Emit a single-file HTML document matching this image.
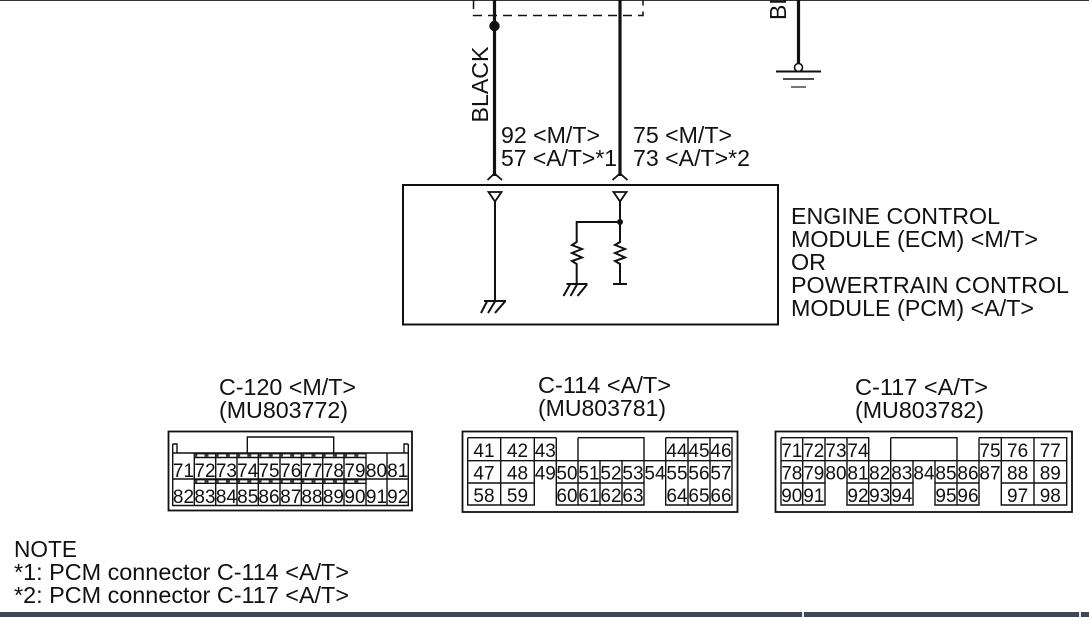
<!DOCTYPE html>
<html><head><meta charset="utf-8"><style>
html,body{margin:0;padding:0;background:#fff}
svg{display:block}
text{font-family:"Liberation Sans",sans-serif;fill:#111}
.l{font-size:23px}
.d text{font-size:19px;text-anchor:middle}
</style></head><body>
<svg width="1089" height="617" viewBox="0 0 1089 617" xmlns="http://www.w3.org/2000/svg">
<rect width="1089" height="617" fill="#fff"/>
<rect x="0" y="0" width="1089" height="1" fill="#333"/>
<!-- wires -->
<g fill="none" stroke="#111">
<path d="M473.5 0V15.5H643V0" stroke-width="1.5" stroke-dasharray="9 6"/>
<path d="M494.5 0V176M620 0V176M798.5 0V64" stroke-width="3.2"/>
<path d="M487.5 180L494.5 173.5L502 180M612.5 180L620 173.5L627.5 180" stroke-width="1.8"/>
<circle cx="798.5" cy="67.5" r="4" fill="#fff" stroke-width="1.6"/>
<path d="M776 71.5H821" stroke-width="2"/>
<path d="M783 79H814" stroke-width="1.4"/>
<path d="M791 87H806" stroke-width="1.6" stroke="#555"/>
<!-- module -->
<rect x="403" y="185" width="375" height="139.5" stroke-width="2"/>
<path d="M488.5 192H501.5L495 201.5ZM613.5 192H626.5L620 201.5Z" stroke-width="1.8"/>
<path d="M495 201V301M620 201V242L615 245L625 249L615 253L625 257.5L615 261L620 264V284M620 222H576.7V242L572 245L582 249L572 253L582 257.5L572 261L576.7 264V284" stroke-width="2"/>
<path d="M484 301H506M487 301.5L481 313M495 301.5L488 313M505 301.5L495 313M566.5 284H587.5M570 284.5L563.5 296M577 284.5L570.5 296M587 284.5L577.5 296M613 284H627" stroke-width="2"/>
<!-- C-120 -->
<rect x="168.5" y="431.5" width="243.5" height="79" stroke-width="1.8"/>
<path d="M172.7 444V505.5H408.3V444M172.7 453H408.3M172.7 479H408.3M177 453V444H172.7M404 453V444H408.3M247.3 453V437H333.7V453" stroke-width="1.4"/>
<path d="M194.3 453V505.5M215.7 453V505.5M237 453V505.5M258.3 453V505.5M280 453V505.5M301.3 453V505.5M322.7 453V505.5M344 453V505.5M366 453V505.5M387 453V505.5" stroke-width="1.4"/>
<path d="M194.3 453.7H366M194.3 457.5H366M194.3 479.7H366M194.3 483.3H366" stroke-width="1.4"/>
<path d="M194.3 455.6H366M194.3 481.5H366" stroke-width="2.4" stroke="#333" stroke-dasharray="3 7.2 4 7.2"/>
<!-- C-114 -->
<rect x="462.5" y="431.5" width="275" height="80.5" stroke-width="1.8"/>
<path d="M467.7 437.7H556.3M578 437.7H644V460.7M578 437.7V460.7M665.7 437.7H732V505H665.7V437.7M467.7 437.7V505H534.3V437.7M500.7 437.7V505M556.3 437.7V460.7M467.7 460.7H732M467.7 483H534.3M556.3 483H644M556.3 460.7V505H644V483M578 460.7V505M600 460.7V505M622 460.7V505M644 460.7V483M688 437.7V505M710 437.7V505" stroke-width="1.4"/>
<!-- C-117 -->
<rect x="775.5" y="431.5" width="296.5" height="80.5" stroke-width="1.8"/>
<path d="M781 437.7H868.7V460.7M781 437.7V505H825V460.7M802.7 437.7V505M825 437.7V460.7M847 437.7V505H913V460.7M890.7 437.7H957V460.7M890.7 437.7V505M868.7 460.7V505M781 460.7H1066.7M781 483H825M847 483H913M935 483H979M1001.3 483H1066.7M935 460.7V505H979V460.7M957 460.7V505M979 437.7H1066.7V505H1001.3V437.7M979 437.7V460.7M1034 437.7V505" stroke-width="1.4"/>
</g>
<circle cx="494.5" cy="26" r="5.2" fill="#111"/>
<circle cx="620" cy="222" r="3" fill="#111"/>
<!-- labels -->
<text class="l" transform="translate(488 122.5) rotate(-90)" textLength="76" lengthAdjust="spacingAndGlyphs">BLACK</text>
<text class="l" transform="translate(786 20) rotate(-90)">BL</text>
<g class="l" transform="translate(0 0.8)">
<text class="l" x="501" y="142" textLength="99" lengthAdjust="spacingAndGlyphs">92 &lt;M/T&gt;</text>
<text class="l" x="501" y="165" textLength="116" lengthAdjust="spacingAndGlyphs">57 &lt;A/T&gt;*1</text>
<text class="l" x="633" y="142" textLength="99" lengthAdjust="spacingAndGlyphs">75 &lt;M/T&gt;</text>
<text class="l" x="633" y="165" textLength="117" lengthAdjust="spacingAndGlyphs">73 &lt;A/T&gt;*2</text>
<text class="l" x="791" y="223" textLength="209" lengthAdjust="spacingAndGlyphs">ENGINE CONTROL</text>
<text class="l" x="791" y="246" textLength="247" lengthAdjust="spacingAndGlyphs">MODULE (ECM) &lt;M/T&gt;</text>
<text class="l" x="791" y="269" textLength="35" lengthAdjust="spacingAndGlyphs">OR</text>
<text class="l" x="791" y="292" textLength="278" lengthAdjust="spacingAndGlyphs">POWERTRAIN CONTROL</text>
<text class="l" x="791" y="315" textLength="243" lengthAdjust="spacingAndGlyphs">MODULE (PCM) &lt;A/T&gt;</text>
<text class="l" x="219" y="394" textLength="137" lengthAdjust="spacingAndGlyphs">C-120 &lt;M/T&gt;</text>
<text class="l" x="219" y="417" textLength="129" lengthAdjust="spacingAndGlyphs">(MU803772)</text>
<text class="l" x="538" y="392" textLength="133" lengthAdjust="spacingAndGlyphs">C-114 &lt;A/T&gt;</text>
<text class="l" x="538" y="415" textLength="128" lengthAdjust="spacingAndGlyphs">(MU803781)</text>
<text class="l" x="855" y="394" textLength="133" lengthAdjust="spacingAndGlyphs">C-117 &lt;A/T&gt;</text>
<text class="l" x="855" y="417" textLength="129" lengthAdjust="spacingAndGlyphs">(MU803782)</text>
<text class="l" x="14" y="556" textLength="63" lengthAdjust="spacingAndGlyphs">NOTE</text>
<text class="l" x="14" y="579" textLength="335" lengthAdjust="spacingAndGlyphs">*1: PCM connector C-114 &lt;A/T&gt;</text>
<text class="l" x="14" y="602" textLength="335" lengthAdjust="spacingAndGlyphs">*2: PCM connector C-117 &lt;A/T&gt;</text>
</g>
<g class="d" transform="translate(0 1)">
<text x="183.5" y="476">71</text><text x="205" y="476">72</text><text x="226.4" y="476">73</text><text x="247.7" y="476">74</text><text x="269" y="476">75</text><text x="290.7" y="476">76</text><text x="312" y="476">77</text><text x="333.4" y="476">78</text><text x="355" y="476">79</text><text x="376.5" y="476">80</text><text x="397.7" y="476">81</text>
<text x="183.5" y="502">82</text><text x="205" y="502">83</text><text x="226.4" y="502">84</text><text x="247.7" y="502">85</text><text x="269" y="502">86</text><text x="290.7" y="502">87</text><text x="312" y="502">88</text><text x="333.4" y="502">89</text><text x="355" y="502">90</text><text x="376.5" y="502">91</text><text x="397.7" y="502">92</text>
<text x="484" y="456">41</text><text x="517.5" y="456">42</text><text x="545.3" y="456">43</text><text x="677" y="456">44</text><text x="699" y="456">45</text><text x="721" y="456">46</text>
<text x="484" y="478.5">47</text><text x="517.5" y="478.5">48</text><text x="545.3" y="478.5">49</text><text x="567" y="478.5">50</text><text x="589" y="478.5">51</text><text x="611" y="478.5">52</text><text x="633" y="478.5">53</text><text x="655" y="478.5">54</text><text x="677" y="478.5">55</text><text x="699" y="478.5">56</text><text x="721" y="478.5">57</text>
<text x="484" y="501">58</text><text x="517.5" y="501">59</text><text x="567" y="501">60</text><text x="589" y="501">61</text><text x="611" y="501">62</text><text x="633" y="501">63</text><text x="677" y="501">64</text><text x="699" y="501">65</text><text x="721" y="501">66</text>
<text x="791.8" y="456">71</text><text x="813.8" y="456">72</text><text x="836" y="456">73</text><text x="858" y="456">74</text><text x="990" y="456">75</text><text x="1017.6" y="456">76</text><text x="1050.3" y="456">77</text>
<text x="791.8" y="478.5">78</text><text x="813.8" y="478.5">79</text><text x="836" y="478.5">80</text><text x="858" y="478.5">81</text><text x="879.7" y="478.5">82</text><text x="901.8" y="478.5">83</text><text x="924" y="478.5">84</text><text x="946" y="478.5">85</text><text x="968" y="478.5">86</text><text x="990" y="478.5">87</text><text x="1017.6" y="478.5">88</text><text x="1050.3" y="478.5">89</text>
<text x="791.8" y="501">90</text><text x="813.8" y="501">91</text><text x="858" y="501">92</text><text x="879.7" y="501">93</text><text x="901.8" y="501">94</text><text x="946" y="501">95</text><text x="968" y="501">96</text><text x="1017.6" y="501">97</text><text x="1050.3" y="501">98</text>
</g>
<!-- bottom bar -->
<rect x="0" y="612" width="1089" height="5" fill="#3c4856"/>
<rect x="802" y="612" width="2" height="5" fill="#e8e8e8"/>
<rect x="1079" y="612" width="2" height="5" fill="#e8e8e8"/>
</svg>
</body></html>
